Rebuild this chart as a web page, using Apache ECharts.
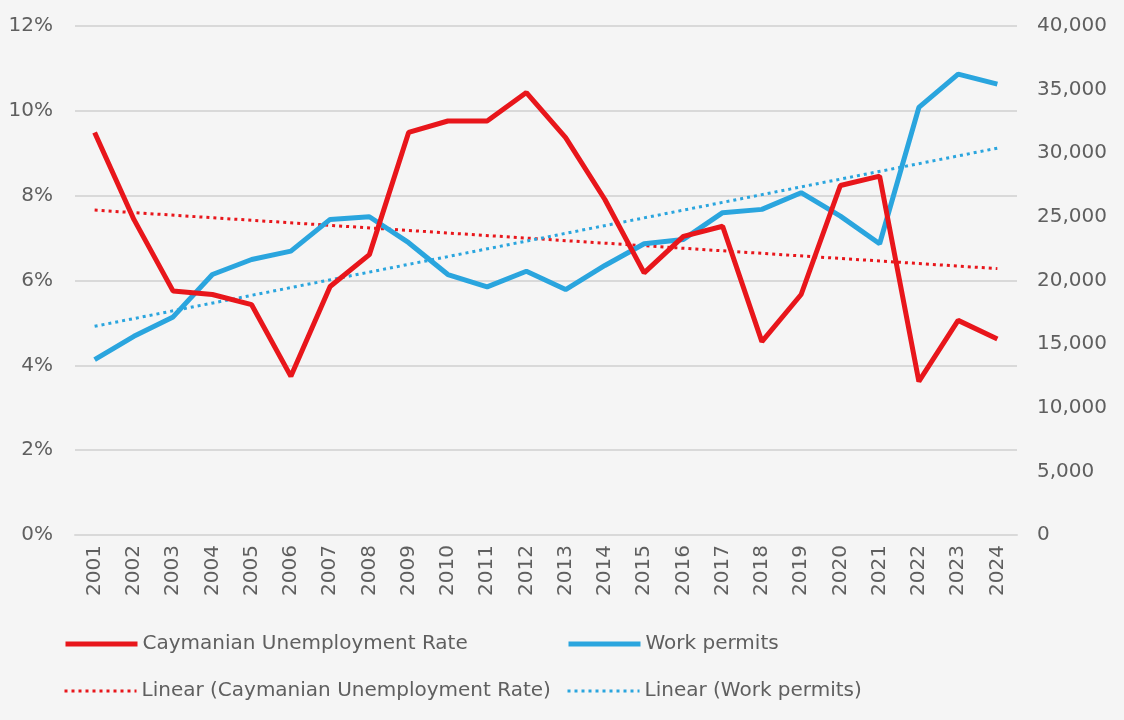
<!DOCTYPE html>
<html><head><meta charset="utf-8">
<script src="https://cdn.jsdelivr.net/npm/echarts@6/dist/echarts.min.js"></script>
<style>html,body{margin:0;padding:0;background:#f5f5f5}#c{width:1124px;height:720px}</style>
</head><body><div id="c"></div>
<script>
const years = ['2001','2002','2003','2004','2005','2006','2007','2008','2009','2010','2011','2012','2013','2014','2015','2016','2017','2018','2019','2020','2021','2022','2023','2024'];
const unemployment = [9.49,7.44,5.75,5.67,5.43,3.74,5.86,6.61,9.49,9.76,9.76,10.43,9.37,7.91,6.18,7.04,7.28,4.56,5.67,8.24,8.46,3.62,5.06,4.62];
const workPermits = [13780,15615,17140,20470,21650,22310,24800,25010,22970,20470,19500,20730,19290,21180,22890,23230,25330,25590,26900,25060,22890,33600,36220,35430];
const unemploymentTrendEnds = [7.66, 6.28];
const workPermitsTrendEnds = [16400, 30400];
const leftTicks = [0,2,4,6,8,10,12];
const rightTicks = [0,5000,10000,15000,20000,25000,30000,35000,40000];

function endsToSeries(ends){
  return years.map((y,i)=> i===0 ? ends[0] : (i===years.length-1 ? ends[1] : null));
}
const RED = '#e8161b', BLUE = '#2aa5de', TXT = '#5f5f5f';
const FONT = 'DejaVu Sans';
const FS = 20;
const chart = echarts.init(document.getElementById('c'));
function leg(name, left, top, color, width, dotted){
  return {data:[name], left:left, top:top, itemWidth:72, itemHeight:14,
    textStyle:{color:TXT, fontSize:FS, fontFamily:FONT},
    itemStyle:{opacity:0, borderWidth:0},
    lineStyle:{color:color, width:width, type: dotted ? [3,4] : 'solid'}};
}
chart.setOption({
  animation:false,
  backgroundColor:'#f5f5f5',
  grid:{left:75, right:107, top:26, bottom:185, containLabel:false},
  xAxis:{type:'category', data:years, boundaryGap:true,
    axisLine:{show:true, lineStyle:{color:'#d9d9d9', width:2}}, axisTick:{show:false},
    axisLabel:{rotate:90, color:TXT, fontSize:FS, fontFamily:FONT, margin:10, interval:0}},
  yAxis:[
    {type:'value', min:leftTicks[0], max:leftTicks[leftTicks.length-1], interval:2, position:'left',
     axisLine:{show:false}, axisTick:{show:false},
     splitLine:{lineStyle:{color:'#d9d9d9', width:2}},
     axisLabel:{formatter:v=>v+'%', color:TXT, fontSize:FS, fontFamily:FONT, margin:22}},
    {type:'value', min:rightTicks[0], max:rightTicks[rightTicks.length-1], interval:5000, position:'right',
     axisLine:{show:false}, axisTick:{show:false}, splitLine:{show:false},
     axisLabel:{formatter:v=>v.toLocaleString('en-US'), color:TXT, fontSize:FS, fontFamily:FONT, margin:20}}
  ],
  legend:[
    leg('Caymanian Unemployment Rate', 58, 629, RED, 5, false),
    leg('Work permits', 561, 629, BLUE, 5, false),
    leg('Linear (Caymanian Unemployment Rate)', 58, 676, RED, 3, true),
    leg('Linear (Work permits)', 561, 676, BLUE, 3, true)
  ],
  series:[
    {name:'Linear (Caymanian Unemployment Rate)', type:'line', yAxisIndex:0, data:endsToSeries(unemploymentTrendEnds), connectNulls:true,
     symbol:'none', lineStyle:{color:RED, width:3, type:[3,4]}, itemStyle:{color:RED}, z:2},
    {name:'Linear (Work permits)', type:'line', yAxisIndex:1, data:endsToSeries(workPermitsTrendEnds), connectNulls:true,
     symbol:'none', lineStyle:{color:BLUE, width:3, type:[3,4]}, itemStyle:{color:BLUE}, z:2},
    {name:'Work permits', type:'line', yAxisIndex:1, data:workPermits, symbol:'none',
     lineStyle:{color:BLUE, width:5}, itemStyle:{color:BLUE}, z:3},
    {name:'Caymanian Unemployment Rate', type:'line', yAxisIndex:0, data:unemployment, symbol:'none',
     lineStyle:{color:RED, width:5}, itemStyle:{color:RED}, z:4}
  ]
});
</script></body></html>
